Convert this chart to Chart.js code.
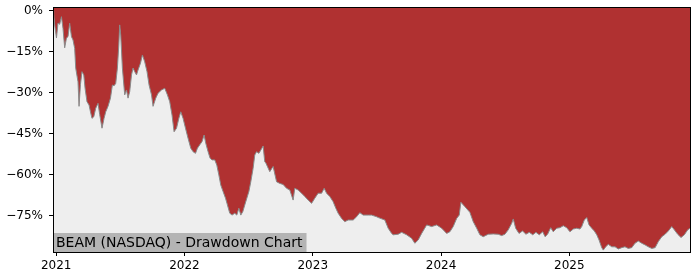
<!DOCTYPE html>
<html>
<head>
<meta charset="utf-8">
<style>
  html, body { margin: 0; padding: 0; background: #ffffff; }
  #wrap { width: 700px; height: 280px; }
</style>
</head>
<body>
<div id="wrap"><canvas id="ddChart" width="700" height="280"></canvas></div>
<script src="https://cdn.jsdelivr.net/npm/chart.js"></script>
<script>
    // dates as fractional years, drawdown in percent
    const dates = [
        2020.975, 2020.980, 2020.988, 2021.002, 2021.014, 2021.027, 2021.041, 2021.053, 2021.066, 2021.080,
        2021.092, 2021.105, 2021.119, 2021.131, 2021.144, 2021.152, 2021.170, 2021.178, 2021.189, 2021.201,
        2021.215, 2021.225, 2021.240, 2021.256, 2021.267, 2021.279, 2021.293, 2021.308, 2021.326, 2021.339,
        2021.357, 2021.373, 2021.386, 2021.404, 2021.423, 2021.438, 2021.451, 2021.464, 2021.477, 2021.488,
        2021.495, 2021.503, 2021.516, 2021.534, 2021.548, 2021.560, 2021.573, 2021.587, 2021.599, 2021.612,
        2021.626, 2021.638, 2021.657, 2021.672, 2021.690, 2021.708, 2021.724, 2021.743, 2021.755, 2021.776,
        2021.794, 2021.821, 2021.846, 2021.867, 2021.885, 2021.903, 2021.919, 2021.938, 2021.956, 2021.971,
        2021.989, 2022.008, 2022.028, 2022.049, 2022.067, 2022.086, 2022.101, 2022.119, 2022.137, 2022.153,
        2022.166, 2022.184, 2022.200, 2022.215, 2022.236, 2022.252, 2022.268, 2022.283, 2022.301, 2022.320,
        2022.335, 2022.353, 2022.371, 2022.392, 2022.408, 2022.424, 2022.439, 2022.455, 2022.470, 2022.486,
        2022.502, 2022.517, 2022.535, 2022.548, 2022.562, 2022.580, 2022.595, 2022.613, 2022.626, 2022.634,
        2022.665, 2022.691, 2022.718, 2022.743, 2022.769, 2022.796, 2022.821, 2022.847, 2022.860, 2022.886,
        2022.913, 2022.938, 2022.964, 2022.991, 2023.016, 2023.042, 2023.069, 2023.089, 2023.108, 2023.133,
        2023.159, 2023.180, 2023.198, 2023.225, 2023.250, 2023.276, 2023.315, 2023.342, 2023.367, 2023.393,
        2023.432, 2023.459, 2023.498, 2023.511, 2023.562, 2023.588, 2023.615, 2023.627, 2023.666, 2023.693,
        2023.732, 2023.771, 2023.796, 2023.822, 2023.849, 2023.888, 2023.927, 2023.966, 2024.005, 2024.044,
        2024.069, 2024.095, 2024.122, 2024.142, 2024.155, 2024.186, 2024.225, 2024.251, 2024.278, 2024.303,
        2024.329, 2024.368, 2024.407, 2024.446, 2024.473, 2024.498, 2024.524, 2024.551, 2024.563, 2024.582,
        2024.608, 2024.636, 2024.662, 2024.688, 2024.715, 2024.740, 2024.766, 2024.793, 2024.811, 2024.831,
        2024.855, 2024.875, 2024.902, 2024.927, 2024.953, 2024.980, 2025.005, 2025.031, 2025.058, 2025.083,
        2025.097, 2025.117, 2025.136, 2025.154, 2025.175, 2025.195, 2025.214, 2025.232, 2025.253, 2025.265,
        2025.284, 2025.304, 2025.331, 2025.357, 2025.382, 2025.409, 2025.434, 2025.460, 2025.487, 2025.512,
        2025.538, 2025.565, 2025.591, 2025.616, 2025.643, 2025.669, 2025.694, 2025.721, 2025.747, 2025.772,
        2025.799, 2025.819, 2025.845, 2025.871, 2025.897, 2025.923, 2025.941
    ];
    const drawdown = [
        0, -1, -5.2, -10, -4.5, -5, -2.2, -6.5, -13.6, -10,
        -9.5, -4.6, -9.5, -10.7, -13.8, -21, -26, -35, -27, -22.3,
        -23.5, -28.4, -33.3, -34.5, -37, -39.4, -38.8, -35.7, -33.9, -38,
        -43, -39.4, -37, -35, -32, -27.2, -27.5, -26.6, -21, -12.5,
        -5.2, -8.9, -21, -30.8, -29, -32, -29.6, -23.5, -21, -22.3,
        -23.5, -21.7, -19.2, -16.2, -18.7, -22.3, -27.2, -30.8, -35, -32,
        -30.2, -29, -28.4, -30.8, -33.3, -38.2, -44.3, -43, -39.4, -37,
        -39.4, -43, -46.7, -50.3, -51.6, -52.2, -50.3, -49.1, -47.9, -45.5,
        -48.5, -51.6, -54, -54.6, -54.6, -56.5, -60.1, -63.8, -66.2, -68.6,
        -71.1, -74.1, -74.8, -74.1, -74.8, -72.3, -74.8, -73.5, -71.1, -68.6,
        -66.2, -62.6, -57.7, -52.8, -51.6, -52.2, -51, -49.5, -55.3, -55.7,
        -58.9, -57, -62.6, -63.2, -63.6, -65, -65.6, -69.3, -65, -65.6,
        -66.8, -68, -69.3, -70.5, -68.6, -66.8, -66.8, -65, -66.8, -68,
        -69.9, -72.3, -74.1, -76, -77.2, -76.6, -76.6, -75.4, -73.9, -74.8,
        -74.8, -74.8, -75.4, -75.7, -76.6, -79.6, -81.5, -82, -81.8, -81.1,
        -82, -83.3, -85.1, -83.9, -81.5, -78.4, -79, -78.4, -79.6, -81.5,
        -80.9, -79, -76, -74.8, -70.1, -71.7, -73.8, -77.2, -79.6, -82,
        -82.7, -81.8, -81.7, -81.8, -82.3, -81.8, -80.2, -77.8, -76.2, -79.6,
        -81.5, -80.6, -81.8, -81.1, -82, -81.1, -82, -80.9, -82.7, -81.8,
        -79.4, -80.9, -79.6, -79.4, -78.7, -79.4, -80.9, -79.9, -79.6, -79.9,
        -79, -76.6, -75.7, -78.4, -79.6, -80.6, -82, -83.9, -86.7, -87.6,
        -86.4, -85.5, -86.4, -86.4, -87.2, -86.7, -86.4, -87, -86.7, -85.1,
        -84.3, -85.1, -85.7, -86.4, -87, -86.7, -84.5, -82.7, -81.8, -80.6,
        -79, -80.2, -81.8, -83, -82, -80.2, -79.6
    ];
    const yearTicks = [2021, 2022, 2023, 2024, 2025];
    const pctTicks = [0, -15, -30, -45, -60, -75];
    const labelText = 'BEAM (NASDAQ) - Drawdown Chart';

    const points = dates.map((d, i) => ({ x: d, y: drawdown[i] }));

    const plotFrame = {
        id: 'plotFrame',
        beforeDatasetsDraw(chart) {
            const a = chart.chartArea;
            const c = chart.ctx;
            c.save();
            c.fillStyle = '#eeeeee';
            c.fillRect(a.left, a.top, a.right - a.left, a.bottom - a.top);
            c.restore();
        },
        afterDatasetsDraw(chart) {
            const a = chart.chartArea;
            const c = chart.ctx;
            c.save();
            // label box bottom left
            c.font = '14px "DejaVu Sans"';
            const w = c.measureText(labelText).width;
            c.fillStyle = '#b4b4b4';
            c.fillRect(a.left, a.bottom - 19, w + 7, 19);
            c.fillStyle = '#000000';
            c.textBaseline = 'alphabetic';
            c.fillText(labelText, a.left + 3, a.bottom - 5);
            // frame
            c.strokeStyle = '#000000';
            c.lineWidth = 1;
            c.strokeRect(Math.round(a.left) + 0.5, Math.round(a.top) + 0.5,
                Math.round(a.right - a.left), Math.round(a.bottom - a.top));
            c.restore();
        }
    };

    const noPad = (scale) => {
        scale.paddingTop = 0;
        scale.paddingBottom = 0;
        scale.paddingLeft = 0;
        scale.paddingRight = 0;
    };

    const ctx = document.getElementById('ddChart').getContext('2d');
    new Chart(ctx, {
        type: 'line',
        data: {
            datasets: [{
                data: points,
                borderColor: '#8a8a8a',
                borderWidth: 1,
                backgroundColor: '#b03131',
                fill: 'end',
                pointRadius: 0,
                tension: 0
            }]
        },
        options: {
            responsive: false,
            animation: false,
            layout: { padding: { top: 7, right: 10, left: 0, bottom: 0 } },
            plugins: {
                legend: { display: false },
                tooltip: { enabled: false }
            },
            scales: {
                x: {
                    type: 'linear',
                    min: 2020.975,
                    max: 2025.941,
                    afterBuildTicks: (scale) => { scale.ticks = yearTicks.map(v => ({ value: v })); },
                    afterFit: (scale) => { scale.height = 28; noPad(scale); },
                    grid: { drawOnChartArea: false, tickLength: 4, tickColor: '#000000' },
                    border: { display: false },
                    ticks: {
                        color: '#000000',
                        padding: 3,
                        maxRotation: 0,
                        font: { family: 'DejaVu Sans', size: 12 },
                        callback: (v) => String(v)
                    }
                },
                y: {
                    min: -88.3,
                    max: 1.35,
                    afterBuildTicks: (scale) => { scale.ticks = pctTicks.map(v => ({ value: v })); },
                    afterFit: (scale) => { scale.width = 53; noPad(scale); },
                    grid: { drawOnChartArea: false, tickLength: 4, tickColor: '#000000' },
                    border: { display: false },
                    ticks: {
                        color: '#000000',
                        padding: 6,
                        font: { family: 'DejaVu Sans', size: 12 },
                        callback: (v) => (v < 0 ? '\u2212' + Math.abs(v) : v) + '%'
                    }
                }
            }
        },
        plugins: [plotFrame]
    });
</script>
</body>
</html>
